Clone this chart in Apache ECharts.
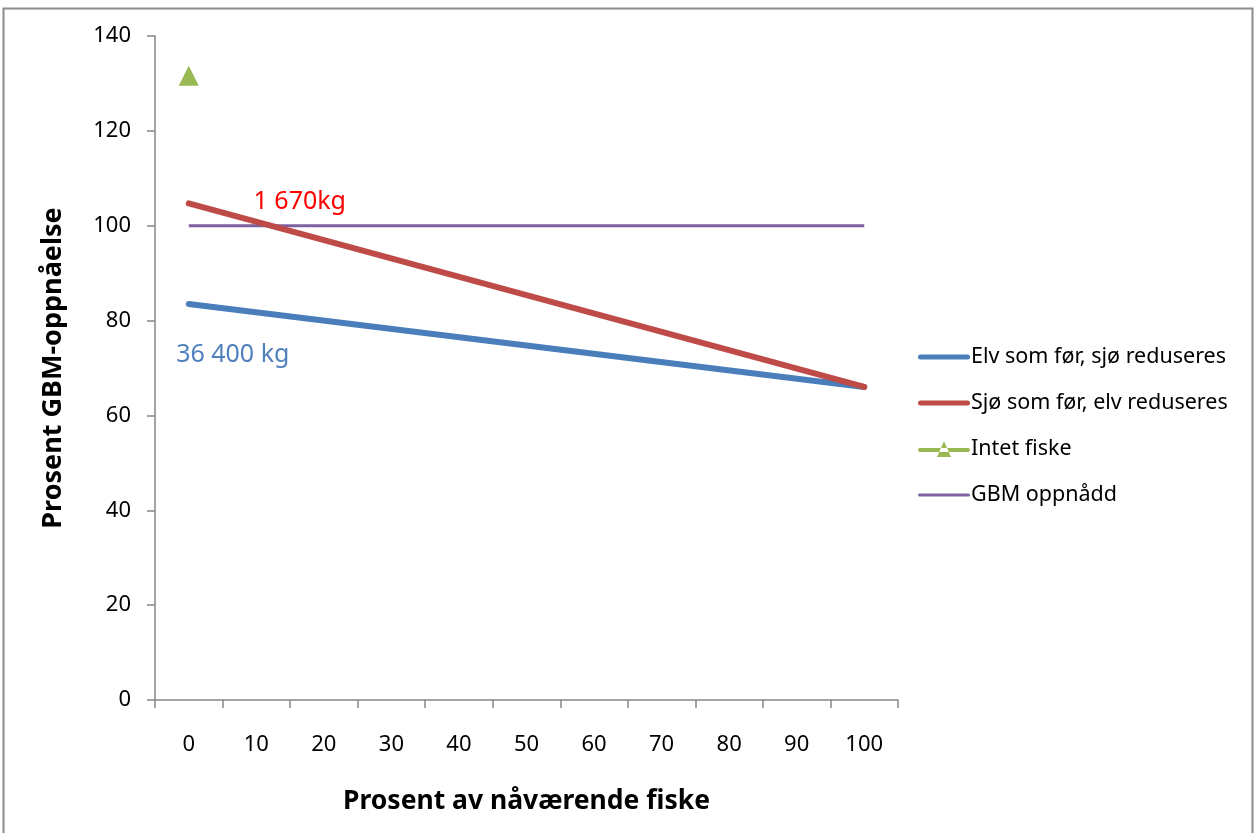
<!DOCTYPE html>
<html>
<head>
<meta charset="utf-8">
<script src="https://cdn.jsdelivr.net/npm/echarts@6/dist/echarts.min.js"></script>
<style>
html,body{margin:0;padding:0;background:#fff;}
#chart{width:1256px;height:833px;}
</style>
</head>
<body>
<div id="chart"></div>
<script>
const categories = ['0','10','20','30','40','50','60','70','80','90','100'];
const elvSomFor = [83.5, null, null, null, null, null, null, null, null, null, 66];
const sjoSomFor = [104.7, null, null, null, null, null, null, null, null, null, 66];
const intetFiske = [131.6, null, null, null, null, null, null, null, null, null, null];
const gbmOppnadd = [100, 100, 100, 100, 100, 100, 100, 100, 100, 100, 100];
const seriesNames = ['Elv som før, sjø reduseres', 'Sjø som før, elv reduseres', 'Intet fiske', 'GBM oppnådd'];
const annotations = { elv: '36 400 kg', sjo: '1 670kg' };

const FONT = '"Noto Sans", "Open Sans", sans-serif';
const thickIcon = 'path://M2.5,0 L49.5,0 A2.5,2.5 0 0 1 49.5,5 L2.5,5 A2.5,2.5 0 0 1 2.5,0 Z';
const thinIcon = 'path://M1.5,0 L50.5,0 A1.5,1.5 0 0 1 50.5,3 L1.5,3 A1.5,1.5 0 0 1 1.5,0 Z';
const triIcon = 'path://M2,8 L50,8 A2,2 0 0 1 50,12 L2,12 A2,2 0 0 1 2,8 Z M19,17 L33,17 L26,1 Z';

const chart = echarts.init(document.getElementById('chart'));
chart.setOption({
  animation: false,
  backgroundColor: '#fff',
  textStyle: { fontFamily: FONT },
  graphic: [{
    type: 'rect', silent: true,
    shape: { x: 3.5, y: 8.5, width: 1249, height: 900 },
    style: { fill: 'none', stroke: '#8c8c8c', lineWidth: 2 }
  }],
  grid: { left: 155, right: 358, top: 36, bottom: 133 },
  legend: {
    orient: 'vertical', left: 913, top: 341,
    itemWidth: 52, itemHeight: 18, itemGap: 24,
    textStyle: { fontSize: 21.5, color: '#000', fontFamily: FONT, padding: [0, 0, 0, -4] },
    data: [
      { name: seriesNames[0], icon: thickIcon },
      { name: seriesNames[1], icon: thickIcon },
      { name: seriesNames[2], icon: triIcon },
      { name: seriesNames[3], icon: thinIcon }
    ]
  },
  xAxis: {
    type: 'category', data: categories, boundaryGap: true,
    name: 'Prosent av nåværende fiske', nameLocation: 'middle', nameGap: 88,
    nameTextStyle: { fontSize: 26.5, fontWeight: 'bold', color: '#000', fontFamily: FONT },
    axisLine: { lineStyle: { color: '#868686', width: 1.5 } },
    axisTick: { show: true, interval: 0, alignWithLabel: false, length: 8, lineStyle: { color: '#868686', width: 1.5 } },
    axisLabel: { interval: 0, fontSize: 22, color: '#000', margin: 34, fontFamily: FONT },
    splitLine: { show: false }
  },
  yAxis: {
    type: 'value', min: 0, max: 140, interval: 20,
    name: 'Prosent GBM-oppnåelse', nameLocation: 'middle', nameGap: 88, nameRotate: 90,
    nameTextStyle: { fontSize: 27, fontWeight: 'bold', color: '#000', fontFamily: FONT },
    axisLine: { show: true, lineStyle: { color: '#868686', width: 1.5 } },
    axisTick: { show: true, length: 8, lineStyle: { color: '#868686', width: 1.5 } },
    axisLabel: { fontSize: 22, color: '#000', margin: 24, fontFamily: FONT },
    splitLine: { show: false }
  },
  series: [
    {
      name: seriesNames[0], type: 'line', data: elvSomFor, connectNulls: true,
      symbol: 'none', color: '#4a7ebb',
      lineStyle: { width: 6, color: '#4a7ebb', cap: 'round' },
      markPoint: {
        symbolSize: 0,
        data: [{ coord: [0, elvSomFor[0]], label: { show: true, formatter: annotations.elv, offset: [44, 51], fontSize: 25, color: '#4f81bd', fontFamily: FONT } }]
      },
      z: 3
    },
    {
      name: seriesNames[1], type: 'line', data: sjoSomFor, connectNulls: true,
      symbol: 'none', color: '#be4b48',
      lineStyle: { width: 6, color: '#be4b48', cap: 'round' },
      markPoint: {
        symbolSize: 0,
        data: [{ coord: [0, sjoSomFor[0]], label: { show: true, formatter: annotations.sjo, offset: [111, -2], fontSize: 25, color: '#ff0000', fontFamily: FONT } }]
      },
      z: 4
    },
    {
      name: seriesNames[2], type: 'line', data: intetFiske,
      symbol: 'triangle', symbolSize: 20, showSymbol: true, color: '#98b954',
      itemStyle: { color: '#98b954' },
      lineStyle: { width: 5, color: '#98b954' },
      z: 5
    },
    {
      name: seriesNames[3], type: 'line', data: gbmOppnadd,
      symbol: 'none', color: '#7d60a0',
      lineStyle: { width: 3, color: '#7d60a0' },
      z: 2
    }
  ]
});
</script>
</body>
</html>
